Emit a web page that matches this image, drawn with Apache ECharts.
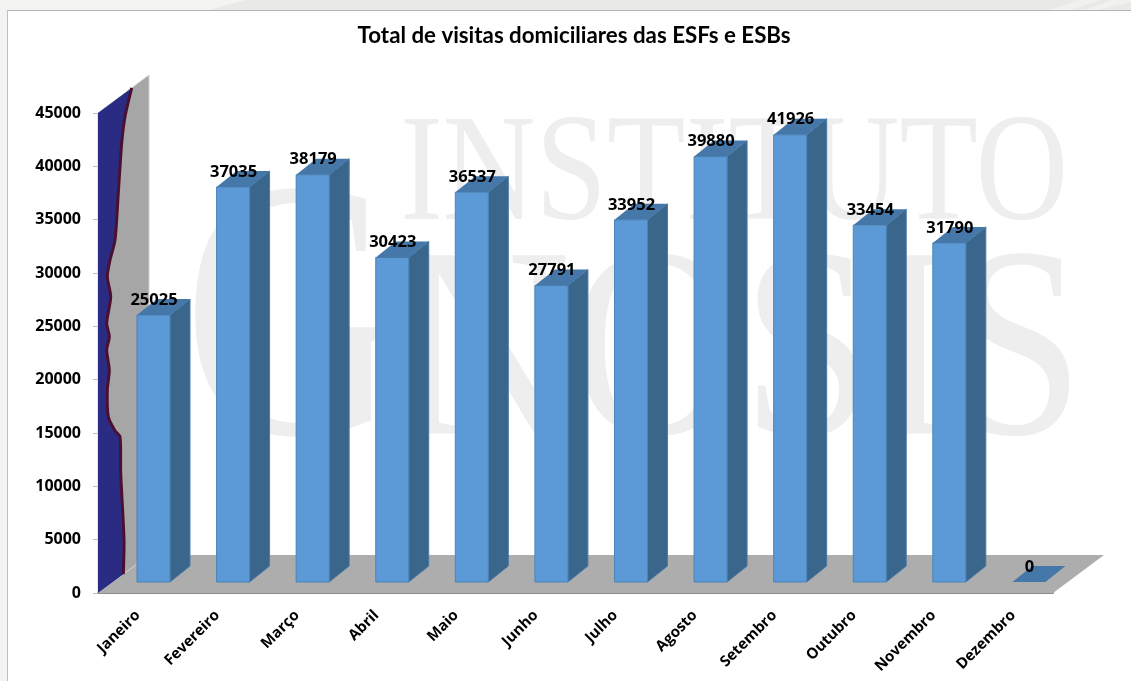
<!DOCTYPE html>
<html><head><meta charset="utf-8">
<style>html,body{margin:0;padding:0;background:#fff}#c{width:1131px;height:681px}</style>
<script src="https://cdn.jsdelivr.net/npm/echarts@6/dist/echarts.min.js"></script>
</head><body><div id="c"></div>
<script>
const categories=['Janeiro','Fevereiro','Março','Abril','Maio','Junho','Julho','Agosto','Setembro','Outubro','Novembro','Dezembro'];
const visits=[25025,37035,38179,30423,36537,27791,33952,39880,41926,33454,31790,0];
const yTicks=[0,5000,10000,15000,20000,25000,30000,35000,40000,45000];
// wavy edge of the dark blue wall artefact: value on the axis, and depth in px
const wallEdgeValue=[45000,42770,40530,36080,31900,30380,29000,26890,24700,23240,22170,20120,18380,15800,14030,13120,9670,3150,0];
const wallEdgeDepth=[33.7,27,23.7,20.3,17,12,9.3,12.7,8.7,11.3,8.7,11.3,9.3,10.3,17,22,22.7,26,25.3];

const FLOOR_DX=51,FLOOR_DY=38,BAR_DX=20,BAR_DY=16,BAR_LIFT=11,BAR_W=33;
const FONT='"Open Sans"';
const chart=echarts.init(document.getElementById('c'),null,{renderer:'canvas'});

function renderStructure(params,api){
  const o=api.coord([0,0]),t=api.coord([0,45000]),cs=params.coordSys;
  const x0=cs.x,x1=cs.x+cs.width,y0=o[1],yT=t[1];
  return {type:'group',children:[
    {type:'polygon',shape:{points:[[x0,y0],[x1,y0],[x1+FLOOR_DX,y0-FLOOR_DY],[x0+FLOOR_DX,y0-FLOOR_DY]]},style:{fill:'#adadad'}},
    {type:'polygon',shape:{points:[[x0,y0],[x0,yT],[x0+FLOOR_DX,yT-FLOOR_DY],[x0+FLOOR_DX,y0-FLOOR_DY]]},style:{fill:'#a6a6a6',stroke:'#cfcfcf',lineWidth:1}}
  ]};
}
function renderEdge(params,api){
  const o=api.coord([0,0]),t=api.coord([0,45000]),x0=params.coordSys.x;
  const pts=wallEdgeValue.map((v,i)=>{
    const d=wallEdgeDepth[i];
    return [x0+d,api.coord([0,v])[1]-d*FLOOR_DY/FLOOR_DX];
  });
  const poly=[[x0,t[1]]].concat(pts,[[x0,o[1]]]);
  return {type:'group',children:[
    {type:'polygon',shape:{points:poly},style:{fill:'#2a2c84'}},
    {type:'polyline',shape:{points:pts,smooth:0.25},style:{fill:null,stroke:'#4b1031',lineWidth:3}}
  ]};
}
function renderBar(params,api){
  const idx=api.value(0),val=api.value(1);
  const c=api.coord([idx,val]),b=api.coord([idx,0]);
  const x=c[0]-0.8,xr=x+BAR_W,yt=c[1]-BAR_LIFT,yb=b[1]-BAR_LIFT;
  const kids=[];
  const edge={stroke:'#4d84b8',lineWidth:1};
  if(val>0){
    kids.push({type:'polygon',shape:{points:[[xr,yt],[xr+BAR_DX,yt-BAR_DY],[xr+BAR_DX,yb-BAR_DY],[xr,yb]]},style:{fill:'#3a668c',stroke:'#4a7aa6',lineWidth:1}});
    kids.push({type:'rect',shape:{x:x,y:yt,width:BAR_W,height:yb-yt},style:Object.assign({fill:'#5b9ad6'},edge)});
  }
  kids.push({type:'polygon',shape:{points:[[x,yt],[xr,yt],[xr+BAR_DX,yt-BAR_DY],[x+BAR_DX,yt-BAR_DY]]},style:{fill:'#4577a8'}});
  kids.push({type:'text',x:x+BAR_W/2+0.5,y:yt-15,z2:50,style:{text:String(val),fill:'#000',font:'bold 16.5px '+FONT,textAlign:'center',textVerticalAlign:'middle'}});
  return {type:'group',children:kids};
}
function wm(text,x,y,size,sx){
  return {type:'text',x:x,y:y,scaleX:sx,z:-10,silent:true,style:{text:text,fill:'#eeeeee',font:size+'px "Liberation Serif"',textVerticalAlign:'top'}};
}
function strip(points,fill){
  return {type:'polygon',z:-19.5,silent:true,shape:{points:points},style:{fill:fill}};
}
chart.setOption({
  animation:false,
  backgroundColor:'#ffffff',
  title:{text:'Total de visitas domiciliares das ESFs e ESBs',left:569,top:20,textAlign:'center',
    textStyle:{fontFamily:'Lato',fontWeight:'bold',fontSize:22.3,color:'#000'}},
  grid:{left:98,right:78,top:113,bottom:88,containLabel:false},
  graphic:{elements:[
    {type:'rect',z:-20,silent:true,shape:{x:0,y:0,width:1131,height:10},style:{fill:'#e9e9e7'}},
    {type:'rect',z:-20,silent:true,shape:{x:0,y:0,width:7,height:681},style:{fill:'#f3f3f1'}},
    strip([[0,0],[245,0],[209,10],[0,10]],'#f3f3f1'),
    strip([[1080,0],[1100,0],[1070,10],[1050,10]],'#f1f1ef'),
    strip([[1112,0],[1131,0],[1131,2],[1098,10],[1085,10]],'#f1f1ef'),
    {type:'rect',z:-19,silent:true,shape:{x:7,y:10,width:1124,height:1},style:{fill:'#b4b4b4'}},
    {type:'rect',z:-19,silent:true,shape:{x:7,y:10,width:1,height:671},style:{fill:'#bfbfbf'}},
    wm('INSTITUTO',400,103,152,0.845),
    wm('G',183,151,370,0.81),
    wm('NOSIS',400,226,272,0.87)
  ]},
  xAxis:{type:'category',data:categories,boundaryGap:true,
    axisLine:{show:true,lineStyle:{color:'#8c8c8c',width:2}},axisTick:{show:false},
    axisLabel:{rotate:45,margin:20,interval:0,color:'#000',fontFamily:FONT,fontWeight:'bold',fontSize:15},splitLine:{show:false}},
  yAxis:{type:'value',min:0,max:45000,interval:5000,
    axisLine:{show:true,lineStyle:{color:'#c8c8c8',width:1}},
    axisTick:{show:true,length:5,lineStyle:{color:'#bdbdbd'}},
    axisLabel:{margin:17,color:'#000',fontFamily:FONT,fontWeight:'bold',fontSize:16,padding:[3,0,0,0],
      formatter:v=>yTicks.includes(v)?String(v):''},splitLine:{show:false}},
  series:[
    {type:'custom',silent:true,z:1,clip:false,data:[[0,0]],renderItem:renderStructure},
    {type:'custom',silent:true,z:2,clip:false,data:[[0,0]],renderItem:renderEdge},
    {type:'custom',silent:true,z:3,clip:false,data:visits.map((v,i)=>[i,v]),renderItem:renderBar,encode:{x:0,y:1}}
  ]
});
</script></body></html>
